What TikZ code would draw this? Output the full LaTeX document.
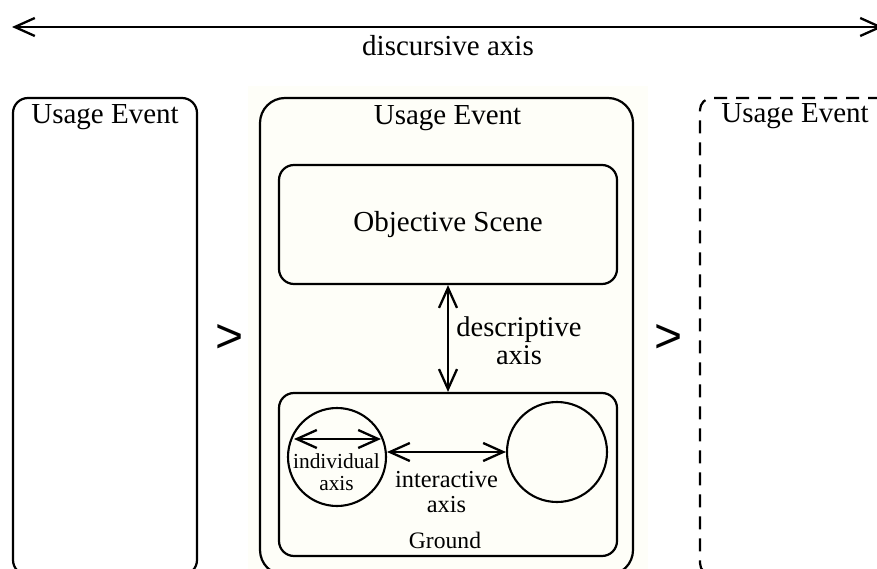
\documentclass[tikz,border=0pt]{standalone}
\usepackage{fontspec}
\setmainfont{Liberation Serif}
\newfontfamily\gtfont{Liberation Sans}
\usetikzlibrary{arrows.meta,shapes.geometric}
\definecolor{cream}{RGB}{254,254,248}
\begin{document}
\begin{tikzpicture}[x=1pt,y=-1pt,
  box/.style={draw, line width=2.2pt, rounded corners=#1, inner sep=0pt},
  box/.default=15pt,
  dashbox/.style={dash pattern=on 13pt off 9pt},
  txt/.style={font=\fontsize{29}{33}\selectfont, inner sep=0pt},
  gt/.style={font=\gtfont\fontsize{48}{50}\selectfont, inner sep=0pt, anchor=base},
  tip/.tip={Straight Barb[length=20pt,width=18pt]},
  axis/.style={line width=2.3pt, tip-tip},
  ring/.style={draw, line width=2.1pt, inner sep=0pt}]
\useasboundingbox (0,0) rectangle (877,569);
\clip (0,0) rectangle (877,569);
\fill[cream] (248,86) rectangle (648,569);

% axis at top
\coordinate (dL) at (12,27);
\coordinate (dR) at (883,27);
\draw[axis] (dL) -- (dR);
\node[txt, anchor=base] (disc) at (448,56) {discursive axis};

% usage events
\node[box=15pt, minimum width=184pt, minimum height=477pt] (ueL) at (105,336.5) {};
\node[box=25pt, minimum width=373pt, minimum height=477pt] (ueM) at (446.5,336.5) {};
\node[box=12pt, dashbox, minimum width=193pt, minimum height=477pt] (ueR) at (796.5,336.5) {};
\node[txt, anchor=base] (tL) at (105,124) {Usage Event};
\node[txt, anchor=base] (tM) at (447.5,125) {Usage Event};
\node[txt, anchor=base] (tR) at (795,123) {Usage Event};

\node[gt] (gt1) at (230,352.6) {>};
\node[gt] (gt2) at (669,352.6) {>};

% objective scene and ground
\node[box=15pt, minimum width=338pt, minimum height=119pt, txt] (os) at (448,224.5) {Objective Scene};
\node[box=15pt, minimum width=338pt, minimum height=163pt] (gr) at (448,474.5) {};
\node[font=\fontsize{23.6}{26}\selectfont, inner sep=0pt, anchor=base] (grt) at (445,548) {Ground};

\draw[axis] (os.south) -- (gr.north);
\node[font=\fontsize{28.5}{28}\selectfont, align=center, inner sep=0pt] (desc) at (519,341) {descriptive\\axis};

% interlocutors
\node[ring, circle, minimum size=98pt] (lc) at (337,457) {};
\node[ring, circle, minimum size=100pt] (rc) at (557,452) {};

\coordinate (ia1) at (294,439);
\coordinate (ia2) at (381,439);
\draw[axis] (ia1) -- (ia2);
\node[font=\fontsize{21.4}{22}\selectfont, align=center, inner sep=0pt] (indiv) at (336.5,472) {individual\\axis};

\draw[axis] (rc.west) -- (rc.west -| lc.east);
\node[font=\fontsize{24.4}{25}\selectfont, align=center, inner sep=0pt] (inter) at (446.5,492) {interactive\\axis};
\end{tikzpicture}
\end{document}
